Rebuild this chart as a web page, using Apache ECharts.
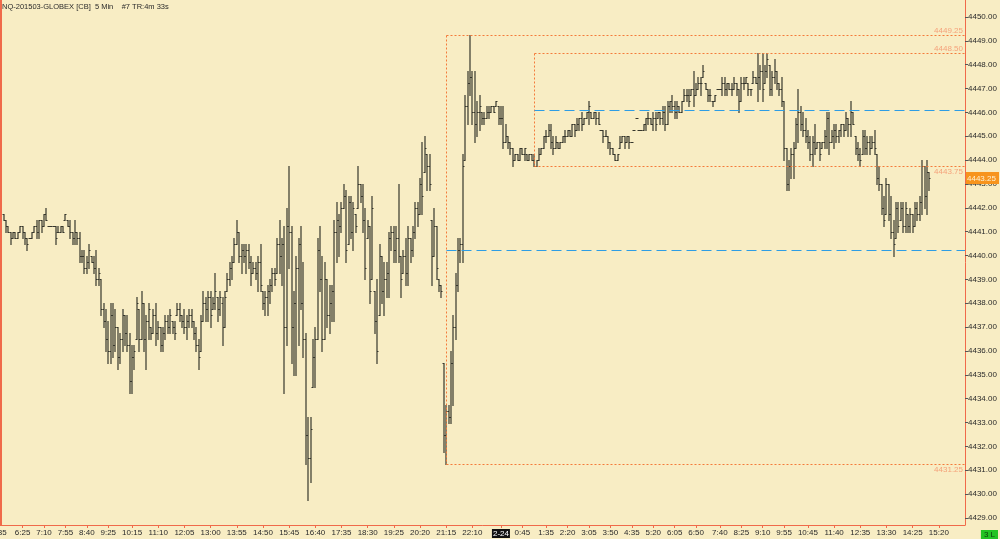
<!DOCTYPE html>
<html><head><meta charset="utf-8">
<script src="https://cdn.jsdelivr.net/npm/echarts@6/dist/echarts.min.js"></script>
<style>html,body{margin:0;padding:0;background:#F8EDC4;overflow:hidden}#c{width:1000px;height:539px}</style>
</head><body><div id="c"></div>
<script>
const chartTitle = 'NQ-201503-GLOBEX [CB]  5 Min    #7 TR:4m 33s';
// trading sessions shown on the time axis (5-minute slots)
const sessions = [
  { date: '2-23', start: '5:35', end: '23:05', firstBar: '5:45' },
  { date: '2-24', start: '0:00', end: '16:15', firstBar: '0:00' }
];
const session1Ticks = ['5:35','6:25','7:10','7:55','8:40','9:25','10:15','11:10','12:05','13:00','13:55','14:50','15:45','16:40','17:35','18:30','19:25','20:20','21:15','22:10'];
const session2Ticks = ['0:00','0:45','1:35','2:20','3:05','3:50','4:35','5:20','6:05','6:50','7:40','8:25','9:10','9:55','10:45','11:40','12:35','13:30','14:25','15:20'];
const dayBreakLabel = '2-24';
const priceTicks = [4429,4430,4431,4432,4433,4434,4435,4436,4437,4438,4439,4440,4441,4442,4443,4444,4445,4446,4447,4448,4449,4450];
const priceMin = 4428.707, priceMax = 4450.713;

// OHLC bars [open, high, low, close], session 1: 5:45 .. 23:05
const bars1 = [
[4441.75,4441.75,4441.5,4441.5],[4441.5,4441.5,4441,4441.25],[4441.25,4441.25,4441,4441],[4441,4441,4440.5,4440.75],[4440.75,4441,4440.75,4441],[4441,4441,4440.75,4440.75],[4440.75,4441,4440.75,4441],[4441,4441.25,4441,4441.25],[4441.25,4441.25,4440.75,4441],[4441,4441,4440.5,4440.75],
[4440.75,4440.75,4440.25,4440.5],[4440.75,4440.75,4440.75,4440.75],[4440.75,4441,4440.75,4441],[4441,4441.25,4441,4441.25],[4441.25,4441.5,4440.75,4441],[4441,4441.5,4440.75,4441.5],[4441.5,4441.5,4441,4441.25],[4441.25,4441.75,4441.25,4441.75],[4441.75,4442,4441.5,4441.5],[4441.25,4441.25,4441.25,4441.25],
[4441.25,4441.25,4441.25,4441.25],[4441.25,4441.25,4441.25,4441.25],[4441.25,4441.25,4440.5,4440.75],[4441,4441.25,4441,4441],[4441,4441.25,4441,4441.25],[4441.25,4441.25,4441,4441],[4441.5,4441.75,4441.5,4441.75],[4441.5,4441.5,4441.25,4441.25],[4441.25,4441.5,4440.75,4441],[4441,4441,4440.5,4440.75],
[4440.75,4441.5,4440.5,4441],[4441,4441,4440.5,4440.75],[4440.75,4441,4439.75,4440],[4440,4440.25,4439.75,4440],[4440,4440.25,4439.25,4439.5],[4439.5,4440,4439.25,4439.75],[4439.75,4440.5,4439.5,4440.25],[4440,4440,4439.75,4439.75],[4439.75,4440,4439.25,4439.5],[4439.5,4440.25,4438.75,4439],
[4439,4439.5,4438.75,4439.25],[4439,4439,4437.5,4437.75],[4437.75,4438,4437,4437.25],[4437.25,4437.75,4436,4436.5],[4436.5,4437.25,4435.5,4436],[4436,4438,4435.5,4437.5],[4437.5,4438,4435.75,4436.25],[4436.25,4437.75,4436,4437],[4437,4437,4435.25,4435.75],[4435.75,4436.75,4435.5,4436.5],
[4436.5,4437.75,4436,4437.5],[4437.5,4437.5,4436.25,4436.75],[4436.75,4437.5,4436,4436.25],[4436.25,4436.75,4434.25,4434.75],[4434.75,4436.25,4434.25,4435.75],[4435.75,4436.25,4435.25,4436],[4436.5,4438.25,4436.5,4438],[4437.75,4437.75,4436,4436.5],[4436.5,4438.5,4436.5,4438],[4438,4438,4436,4436.5],
[4436.5,4437.5,4435.25,4437.25],[4437.25,4438,4436.5,4437.75],[4437,4437,4436.5,4436.75],[4436.75,4437.75,4436.75,4437.5],[4437.5,4438,4436.25,4436.75],[4436.75,4437.25,4436.5,4437],[4437,4437,4436,4436.25],[4436.25,4437,4436,4436.75],[4436.75,4437.5,4436.5,4437.25],[4437.25,4437.5,4436.75,4437],
[4437,4437.75,4436.75,4437.5],[4437.25,4437.25,4436.75,4437],[4437,4437.25,4436.5,4436.75],[4437.5,4438,4437.5,4437.75],[4437.75,4438,4437.25,4437.5],[4437.5,4437.5,4437,4437.25],[4437.25,4437.75,4436.75,4437],[4437,4437.5,4436.5,4437.25],[4437.25,4437.75,4437,4437.5],[4437.5,4437.75,4437,4437.25],
[4437.25,4437.25,4436.5,4436.75],[4436.75,4437,4436,4436.25],[4436.25,4436.5,4435.25,4435.75],[4436,4437.5,4436,4437.25],[4437.25,4438.5,4437.25,4438],[4438,4438.25,4437.25,4437.75],[4437.75,4438.5,4437.25,4438.25],[4438.25,4438.5,4437,4437.5],[4437.75,4438.25,4437.75,4438],[4438,4439.25,4437.75,4438.5],
[4438.25,4438.25,4437.25,4437.75],[4437.75,4438.5,4437.5,4438.25],[4438,4438.25,4436.25,4437],[4437,4438.5,4437,4438.25],[4438.5,4439.25,4438.5,4439],[4439,4439.75,4438.75,4439.5],[4439.5,4440,4439,4439.75],[4439.75,4440.75,4439.75,4440.5],[4440.5,4441.5,4440.5,4441],[4441,4441,4439.75,4440],
[4440,4440.5,4439.25,4440.25],[4440.25,4440.5,4439.75,4440],[4440,4440.5,4439.25,4440.25],[4440.25,4440.5,4439.5,4439.75],[4439.75,4440,4438.75,4439.25],[4439.25,4439.75,4439.25,4439.5],[4439.5,4439.75,4439,4439.25],[4439.25,4440,4438.5,4439.75],[4439.75,4440.5,4438.5,4438.75],[4438.5,4438.5,4437.75,4438],
[4438,4438.5,4437.5,4438.25],[4438.25,4438.75,4437.5,4438.5],[4438.5,4439,4438,4438.75],[4438.75,4439.5,4438.5,4439.25],[4439.25,4439.5,4438.75,4439],[4439.25,4440.75,4439.25,4440.5],[4440.5,4441.5,4439.25,4440],[4440,4440.75,4438.75,4440.5],[4440.5,4441.25,4434.25,4437],[4437,4442,4436.25,4441.25],
[4441.25,4443.75,4439.5,4441],[4441,4441.25,4435.5,4437],[4437,4438.5,4435,4438],[4438,4440,4435,4439.5],[4439.5,4440.75,4436.25,4440.5],[4440.5,4441.25,4437.75,4438],[4438,4439.75,4435.75,4436.5],[4436.5,4436.75,4431.25,4432.5],[4432.5,4433.25,4429.75,4431.5],[4431.5,4433.25,4430.5,4432.75],
[4434.5,4436.5,4434.5,4435.75],[4435.75,4437,4434.5,4436.5],[4436.5,4440.75,4436.5,4440.25],[4440.25,4441.25,4438.5,4439],[4439,4440,4436,4436.5],[4436.5,4439.75,4436.5,4439],[4439,4439,4437,4437.5],[4437.5,4438.75,4436.75,4438],[4438,4438.75,4437.25,4438.5],[4438.5,4441.5,4437.25,4441],
[4441,4442.25,4439.75,4441.5],[4441.5,4441.75,4440,4441.25],[4441.25,4442.25,4441,4442],[4442,4443,4442,4442.5],[4442.5,4442.75,4439.75,4440.25],[4440.5,4442.5,4440.5,4442.25],[4442.25,4442.5,4440.75,4441],[4441,4442.25,4440.25,4442],[4441.75,4441.75,4441,4441.25],[4442,4443.75,4442,4443],
[4443,4443,4442.25,4442.5],[4442.5,4443,4441,4441.5],[4441.5,4442,4439,4439.5],[4440.75,4441.5,4440.75,4441.25],[4441.25,4441.25,4438,4438.5],[4439,4442.5,4439,4442],[4438.5,4438.5,4436.75,4437.25],[4437.25,4439,4435.5,4436],[4437.5,4440.5,4437.5,4440],[4440,4440,4438,4438.5],
[4438.5,4439.75,4437.5,4439],[4439,4439.75,4438.25,4439.25],[4439.25,4441,4438.25,4440.75],[4440.75,4441.25,4440.25,4441],[4441,4441.25,4439.75,4440.25],[4440.25,4441.25,4439.75,4440.75],[4440.75,4443,4439.75,4440],[4440,4440,4438.25,4439],[4439.25,4440.25,4439.25,4440],[4440,4440.75,4438.75,4439.25],
[4439.25,4441.25,4438.75,4440.75],[4440.75,4440.75,4439.75,4440.25],[4440.25,4441.25,4440,4441],[4441,4442.25,4440.75,4442],[4442,4442.25,4441.25,4441.75],[4441.75,4443.25,4441.75,4443],[4443,4444.75,4441.75,4442.5],[4443.5,4445,4443.5,4444.5],[4444.25,4444.25,4442.75,4443.75],[4443.75,4444.25,4442.75,4443],
[4441.5,4441.5,4438.75,4440],[4440,4442,4440,4441.25],[4441.25,4441.25,4439,4439.5],[4439,4439,4438.5,4438.75],[4438.75,4438.75,4438.25,4438.5],[4435.5,4435.5,4431.75,4432.5],[4432.5,4433.75,4431.25,4433.5],[4433.5,4433.75,4433,4433.25],[4433.25,4436,4433,4435.5],[4435.5,4437.5,4433.75,4437],
[4437,4439.25,4436.5,4438.75],[4438.75,4440.75,4438.5,4440.25],[4440.25,4440.75,4439.75,4440.5],[4440.5,4444.25,4439.75,4443.75],[4444,4446.75,4444,4446.25],[4446.25,4447.75,4445.5,4447.25],[4447.25,4449.25,4446.75,4447.5],[4447.5,4447.75,4445.5,4446],[4446,4447.75,4444.75,4445.5],[4445.5,4446.5,4445,4446],
[4446,4446.75,4445.25,4446.25],[4446,4446,4445.5,4445.75],[4445.75,4446,4445.5,4445.75],[4445.75,4446.25,4445.75,4446],[4446,4446.25,4445.75,4446],[4446,4446.25,4446,4446.25],[4446.25,4446.25,4446,4446],[4446.25,4446.5,4446.25,4446.5],[4446.25,4446.25,4445.5,4445.75]
];
// session 2: 0:00 .. 15:00
const bars2 = [
[4445.75,4446.25,4445.5,4445.75],[4445.75,4446.25,4444.5,4444.75],[4444.75,4445.5,4444.75,4445],[4445,4445,4444.5,4444.75],[4444.75,4444.75,4444.25,4444.5],[4444.5,4444.5,4443.75,4444],[4444,4444.25,4444,4444.25],[4444.25,4444.25,4444,4444],[4444,4444.5,4444,4444.5],[4444.5,4444.5,4444.25,4444.25],
[4444.25,4444.5,4444,4444.5],[4444.25,4444.25,4444,4444],[4444,4444.25,4444,4444.25],[4444.25,4444.25,4444,4444],[4444,4444.25,4443.75,4443.75],[4443.75,4444,4443.75,4444],[4444,4444.5,4444,4444.25],[4444.25,4444.5,4444.25,4444.5],[4444.5,4445,4444.5,4445],[4445,4445.25,4444.75,4445],
[4445,4445.5,4445,4445.25],[4445.25,4445.5,4444.5,4444.75],[4444.75,4445,4444.25,4444.5],[4444.5,4445,4444.5,4444.75],[4444.75,4444.75,4444.5,4444.5],[4444.5,4444.75,4444.5,4444.75],[4444.75,4445,4444.75,4445],[4445,4445.25,4444.75,4445],[4445,4445.25,4445,4445.25],[4445.25,4445.25,4445,4445],
[4445,4445.5,4445,4445.5],[4445.5,4445.5,4445,4445.25],[4445.25,4445.75,4445.25,4445.5],[4445.5,4445.75,4445.25,4445.75],[4445.75,4446,4445.25,4445.5],[4445.5,4445.75,4445.5,4445.75],[4445.75,4446,4445.75,4446],[4446,4446.5,4445.5,4446.25],[4446,4446,4445.75,4445.75],[4445.75,4446,4445.75,4446],
[4446,4446,4445.5,4445.75],[4445.75,4446,4445.5,4445.5],[4445.25,4445.25,4445.25,4445.25],[4445.25,4445.25,4444.75,4445],[4445,4445.25,4445,4445],[4445,4445,4444.5,4444.75],[4444.75,4444.75,4444.25,4444.5],[4444.5,4444.5,4444.25,4444.25],[4444.25,4444.25,4444,4444],[4444,4444.25,4444,4444.25],
[4444.5,4445,4444.5,4444.75],[4444.75,4445,4444.75,4445],[4445,4445,4444.5,4444.75],[4444.75,4445,4444.75,4445],[4445,4445,4444.5,4444.75],[4444.75,4444.75,4444.75,4444.75],[4445.25,4445.25,4445.25,4445.25],[4445.75,4445.75,4445.75,4445.75],[4445.25,4445.25,4445.25,4445.25],[4445.25,4445.25,4445.25,4445.25],
[4445.25,4445.5,4445.25,4445.5],[4445.5,4445.75,4445.25,4445.75],[4445.75,4446,4445.5,4445.75],[4445.75,4445.75,4445.5,4445.5],[4445.5,4446,4445.25,4445.75],[4445.75,4446,4445.25,4445.5],[4445.75,4446,4445.75,4446],[4446,4446,4445.5,4445.75],[4445.75,4446.25,4445.5,4446],[4446,4446.25,4445.25,4445.5],
[4445.5,4446.5,4445.5,4446.25],[4446.25,4446.5,4446,4446.5],[4446.5,4446.75,4446,4446.25],[4446.25,4446.5,4445.75,4446],[4446,4446.5,4445.75,4446.25],[4446.25,4446.25,4446,4446],[4446,4446.5,4446,4446.5],[4446.5,4447,4446.5,4446.75],[4446.75,4447,4446.5,4446.75],[4446.75,4447,4446.25,4446.5],
[4446.75,4447,4446.75,4447],[4447,4447.75,4446.25,4446.75],[4446.75,4447.25,4446.75,4447],[4447,4447.5,4447,4447.25],[4447.25,4447.5,4446.75,4447.25],[4447.5,4448,4447.5,4447.75],[4447.25,4447.25,4447,4447],[4447,4447,4446.5,4446.75],[4446.75,4447,4446.5,4446.75],[4446.5,4446.5,4446.25,4446.5],
[4446.5,4446.75,4446.5,4446.75],[4447,4447,4447,4447],[4447,4447,4447,4447],[4447,4447.5,4446.75,4447.25],[4447.25,4447.5,4446.75,4447],[4447,4447.25,4446.75,4447.25],[4447.25,4447.25,4447,4447],[4447,4447.25,4446.75,4447],[4447,4447.5,4447,4447.25],[4447.25,4447.25,4446.75,4447],
[4447,4447,4446,4446.5],[4446.5,4447.5,4446.5,4447.25],[4447.25,4447.5,4447,4447.25],[4447.25,4447.5,4447.25,4447.5],[4447.25,4447.25,4446.75,4447],[4447,4447,4446.75,4447],[4447.25,4447.75,4447.25,4447.5],[4447.5,4447.5,4447.25,4447.25],[4447.25,4448.5,4446.5,4447.5],[4447.5,4448,4447,4447.75],
[4447.75,4448.5,4446.5,4447],[4447.25,4448,4447.25,4447.75],[4447.75,4448.5,4447.5,4448.25],[4448,4448,4446.75,4447],[4447,4447.75,4446.75,4447.5],[4447.5,4448.25,4447.25,4447.75],[4447.75,4447.75,4447,4447.25],[4447.25,4447.25,4446.75,4447],[4447,4447.5,4446.25,4446.5],[4446.5,4446.5,4444,4444.5],
[4444.5,4444.5,4442.75,4443],[4443,4444,4442.75,4443.75],[4443.75,4444.5,4443.25,4444.25],[4444.25,4444.75,4443.25,4444.5],[4444.5,4445.75,4444.5,4445.5],[4445.5,4447,4444.75,4446],[4446,4446.25,4445.25,4445.5],[4445.5,4446,4445,4445.25],[4445.25,4445.75,4444.75,4445],[4445,4445.25,4444.5,4444.75],
[4444.75,4445,4444,4444.25],[4444.25,4445,4443.75,4444.75],[4444.75,4445.5,4444.25,4444.5],[4444.5,4444.75,4444.5,4444.75],[4444.75,4444.75,4444,4444.25],[4444.5,4444.75,4444.5,4444.75],[4444.75,4445.25,4444.5,4445],[4445,4446,4444.5,4445.75],[4445.75,4446,4444.25,4444.75],[4444.75,4445.25,4444.75,4445],
[4445,4445.5,4444.5,4445.25],[4445.25,4445.5,4444.75,4445],[4445,4445.25,4444.75,4445.25],[4445.25,4445.5,4445,4445.5],[4445.5,4445.5,4445,4445.25],[4445.25,4446,4445.25,4445.75],[4445.75,4445.75,4445,4445.5],[4445.5,4446.5,4445,4446],[4446,4446,4445.5,4445.5],[4445,4445,4444.25,4444.5],
[4444.5,4444.75,4444,4444.25],[4444.25,4444.5,4443.75,4444],[4444.25,4445.25,4444.25,4445],[4445,4445.25,4444.25,4444.5],[4444.5,4445,4444.25,4444.75],[4444.75,4445,4444.25,4444.5],[4444.5,4445,4444.5,4444.75],[4444.75,4445.25,4444.25,4444.5],[4444.25,4444.25,4443,4443.25],[4443.25,4443.75,4442.75,4443],
[4443,4443,4441.75,4442],[4442,4442.5,4441.25,4441.5],[4441.75,4443.25,4441.75,4443],[4443,4443,4441.5,4441.75],[4441.75,4442.5,4440.75,4441],[4441,4441.5,4440,4440.5],[4440.75,4442.25,4440.75,4442],[4442,4442.25,4441,4441.25],[4441.5,4442.25,4441.5,4442],[4442,4442.25,4441,4441.25],
[4441.25,4442.25,4441,4442],[4441.75,4441.75,4441,4441.25],[4441.25,4442,4441,4441.75],[4441.75,4441.75,4441,4441.25],[4441.25,4442.25,4441.25,4442],[4442,4442.25,4441.5,4441.75],[4441.75,4442.5,4441.5,4442.25],[4442.25,4444,4441.75,4443.75],[4443.75,4443.75,4442,4442.5],[4442.5,4444,4441.75,4443.5],
[4443.5,4443.5,4442.75,4443.25]
];
// swing ranges (dotted boxes) starting at the swing bar, with their midlines
const swingStarts = ['2-23 21:15', '2-24 1:10'];
const swingLows = [4431.25, 4443.75];
const swingHighs = [4449.25, 4448.50];
const lastPrice = 4443.25;
const positionLabel = '3 L';

// ---------- build ----------
const toMin = t => { const [h, m] = t.split(':').map(Number); return h * 60 + m; };
const fmt = m => Math.floor(m / 60) + ':' + String(m % 60).padStart(2, '0');
const categories = [];
sessions.forEach(s => { for (let m = toMin(s.start); m <= toMin(s.end); m += 5) categories.push(s.date + ' ' + fmt(m)); });
const tickSet = new Set([...session1Ticks.map(t => '2-23 ' + t), ...session2Ticks.map(t => '2-24 ' + t)]);
const dayBreakCat = '2-24 0:00';
const lastIdx = categories.length - 1;

const seriesData = [];
[[bars1, sessions[0]], [bars2, sessions[1]]].forEach(([bars, s]) => {
  const i0 = categories.indexOf(s.date + ' ' + s.firstBar);
  bars.forEach((b, k) => seriesData.push([i0 + k, b[0], b[1], b[2], b[3]]));
});
const swingData = swingStarts.map((s, k) => [categories.indexOf(s), swingLows[k], swingHighs[k]]);

const FONT = '8px "Liberation Sans", Arial, sans-serif';
const BAR = '#36362c';
function renderBar(params, api) {
  const xi = api.value(0);
  const pH = api.coord([xi, api.value(2)]);
  const pL = api.coord([xi, api.value(3)]);
  const pO = api.coord([xi, api.value(1)]);
  const pC = api.coord([xi, api.value(4)]);
  const x = Math.round(pH[0]);
  const st = { stroke: BAR, lineWidth: 1.2 };
  const st1 = { stroke: BAR, lineWidth: 1 };
  const oy = Math.round(pO[1]) + 0.5, cy = Math.round(pC[1]) + 0.5;
  return { type: 'group', children: [
    { type: 'line', shape: { x1: x, y1: Math.round(pH[1]), x2: x, y2: Math.round(pL[1]) + 1 }, style: st },
    { type: 'line', shape: { x1: x - 1.5, y1: oy, x2: x, y2: oy }, style: st1 },
    { type: 'line', shape: { x1: x, y1: cy, x2: x + 1.5, y2: cy }, style: st1 }
  ]};
}

const ORANGE = '#F47B3A', BLUE = '#2E9DE4', LBL = '#F5A27A';
function renderSwing(params, api) {
  const cs = params.coordSys;
  const right = cs.x + cs.width;
  const i = api.value(0), lo = api.value(1), hi = api.value(2), mid = (lo + hi) / 2;
  const pLo = api.coord([i, lo]), pHi = api.coord([i, hi]), pMid = api.coord([i, mid]);
  const x = Math.round(pLo[0]) + 0.5;
  const yLo = Math.round(pLo[1]) + 0.5, yHi = Math.round(pHi[1]) + 0.5;
  const yMid = 2 * Math.round(pMid[1] / 2) + 0.5;
  const dot = { stroke: ORANGE, lineWidth: 1, lineDash: [2, 2] };
  const dash = { stroke: BLUE, lineWidth: 1, lineDash: [10, 5] };
  return { type: 'group', children: [
    { type: 'line', shape: { x1: x, y1: yHi, x2: right, y2: yHi }, style: dot },
    { type: 'line', shape: { x1: x, y1: yLo, x2: right, y2: yLo }, style: dot },
    { type: 'line', shape: { x1: x, y1: yHi, x2: x, y2: yLo }, style: dot },
    { type: 'line', shape: { x1: x, y1: yMid, x2: right, y2: yMid }, style: dash },
    { type: 'text', x: right - 2, y: yHi - 0.5, style: { text: hi.toFixed(2), align: 'right', verticalAlign: 'bottom', fill: LBL, font: FONT } },
    { type: 'text', x: right - 2, y: yLo + 1, style: { text: lo.toFixed(2), align: 'right', verticalAlign: 'top', fill: LBL, font: FONT } }
  ]};
}
function renderTag(params, api) {
  const cs = params.coordSys;
  const right = cs.x + cs.width;
  const p = api.coord([api.value(0), api.value(1)]);
  const y = Math.round(p[1]);
  return { type: 'group', children: [
    { type: 'rect', shape: { x: right + 1, y: y - 6, width: 33, height: 12 }, style: { fill: '#F7941D' } },
    { type: 'text', x: right + 2, y: y + 0.5, style: { text: api.value(1).toFixed(2), align: 'left', verticalAlign: 'middle', fill: '#FFF1D0', font: FONT } }
  ]};
}

const AX = '#F06A4A';
const chart = echarts.init(document.getElementById('c'), null, { renderer: 'canvas' });
chart.setOption({
  backgroundColor: '#F8EDC4',
  animation: false,
  title: { text: chartTitle, left: 2, top: 3, padding: 0, textStyle: { fontSize: 7.5, fontWeight: 'normal', color: '#2a2a2a', fontFamily: 'Liberation Sans' } },
  grid: { left: -1.2, right: 35, top: 0, bottom: 14, outerBoundsMode: 'none', containLabel: false },
  xAxis: {
    type: 'category', data: categories, boundaryGap: false,
    axisLine: { lineStyle: { color: AX, width: 1 } },
    axisTick: { show: true, interval: (i, v) => tickSet.has(v), length: 3, lineStyle: { color: AX } },
    axisLabel: {
      interval: (i, v) => tickSet.has(v), margin: 4, fontSize: 8, color: '#2a2a2a', fontFamily: 'Liberation Sans',
      formatter: v => v === dayBreakCat ? '{day|' + dayBreakLabel + '}' : v.split(' ')[1],
      rich: { day: { backgroundColor: '#111', color: '#fff', fontSize: 8, fontFamily: 'Liberation Sans', padding: [1, 1, 0, 1] } }
    },
    splitLine: { show: false }
  },
  yAxis: {
    type: 'value', position: 'right', min: priceMin, max: priceMax, scale: true,
    axisLine: { show: true, lineStyle: { color: AX, width: 1 } },
    axisTick: { show: true, length: 3, customValues: priceTicks, lineStyle: { color: '#555' } },
    axisLabel: { customValues: priceTicks, margin: 3, fontSize: 8, color: '#2a2a2a', fontFamily: 'Liberation Sans', formatter: v => v.toFixed(2) },
    splitLine: { show: false }
  },
  graphic: [
    { type: 'line', shape: { x1: 1, y1: 0, x2: 1, y2: 525 }, style: { stroke: AX, lineWidth: 2 }, silent: true },
    { type: 'text', right: 2, bottom: 0, style: { text: positionLabel, font: FONT, fill: '#0b3d0b', backgroundColor: '#22C322', padding: [1, 3, 0, 3] }, silent: true }
  ],
  series: [
    { type: 'custom', name: 'NQ', renderItem: renderBar, data: seriesData, encode: { x: 0, y: [1, 2, 3, 4] }, clip: true, z: 2 },
    { type: 'custom', name: 'swings', renderItem: renderSwing, data: swingData, encode: { x: 0, y: [1, 2] }, clip: false, silent: true, z: 3 },
    { type: 'custom', name: 'last', renderItem: renderTag, data: [[lastIdx, lastPrice]], encode: { x: 0, y: 1 }, clip: false, silent: true, z: 5 }
  ]
});
</script></body></html>
